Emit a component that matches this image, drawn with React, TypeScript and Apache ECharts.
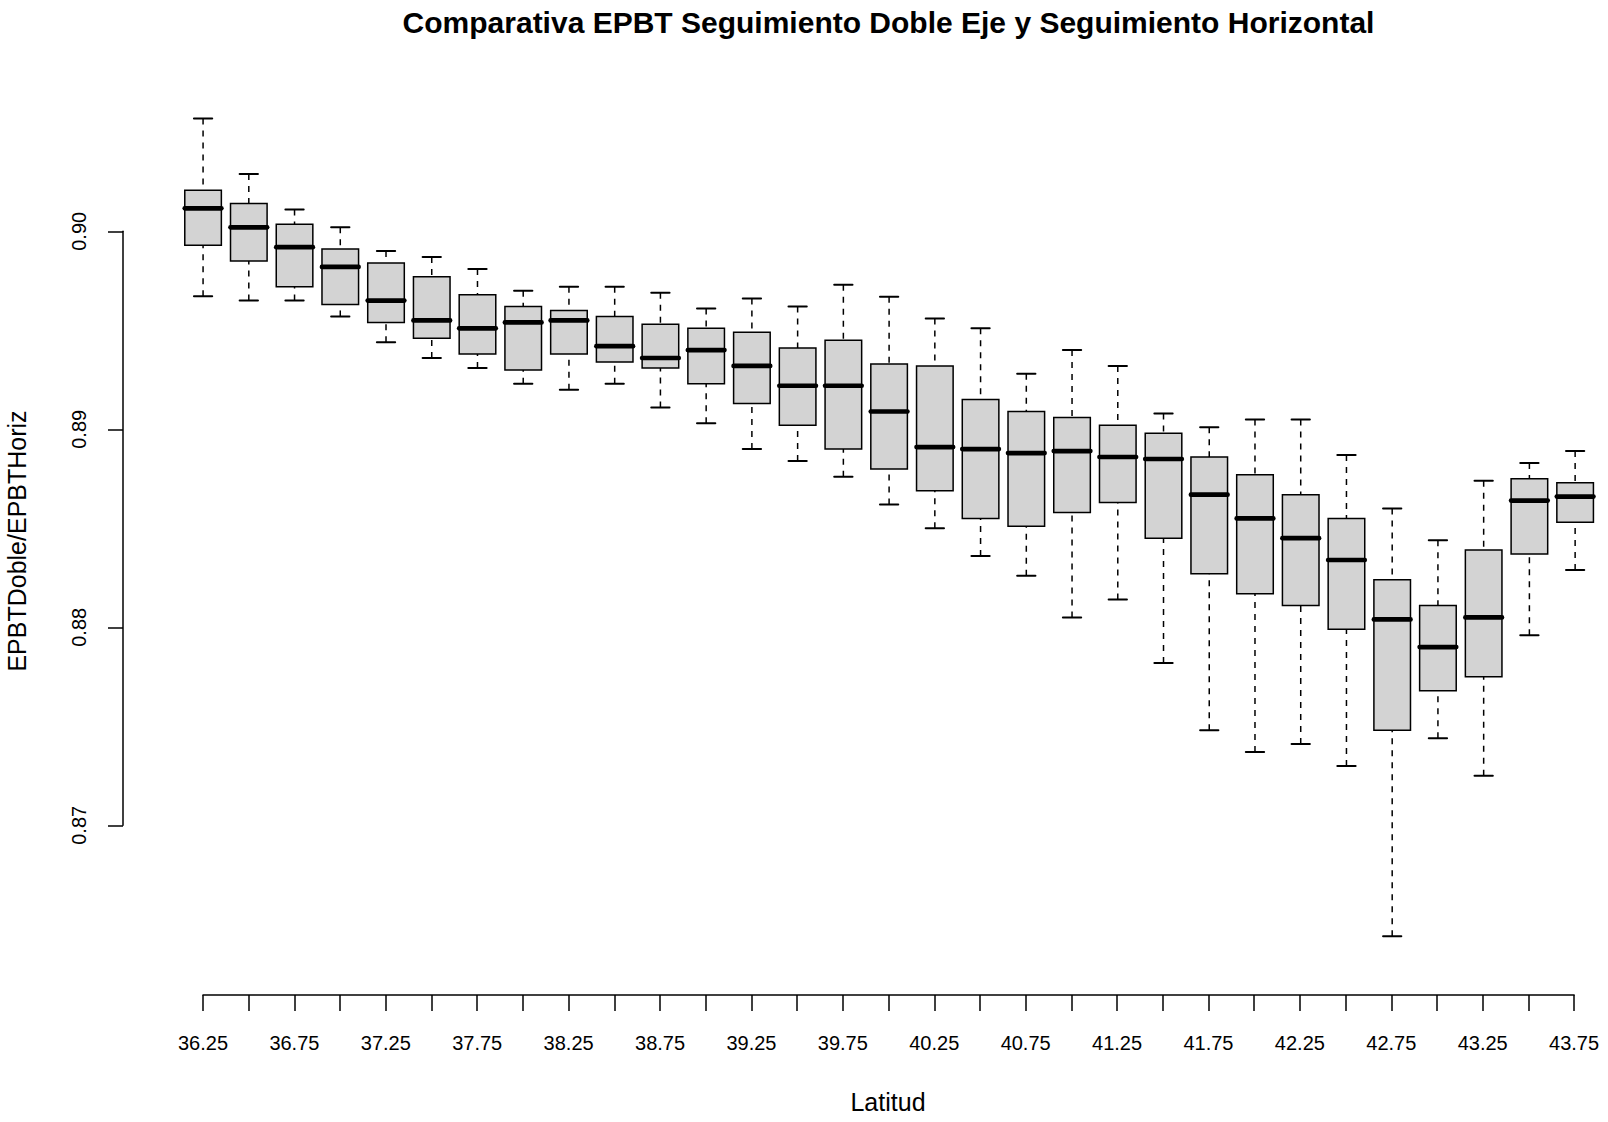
import React, { useEffect, useRef } from 'react';
import * as echarts from 'echarts';

const latitudes = ['36.25', '36.5', '36.75', '37', '37.25', '37.5', '37.75', '38', '38.25', '38.5', '38.75', '39', '39.25', '39.5', '39.75', '40', '40.25', '40.5', '40.75', '41', '41.25', '41.5', '41.75', '42', '42.25', '42.5', '42.75', '43', '43.25', '43.5', '43.75'];

const whiskerHigh = [0.9057, 0.9029, 0.9011, 0.9002, 0.8990, 0.8987, 0.8981, 0.8970, 0.8972, 0.8972, 0.8969, 0.8961, 0.8966, 0.8962, 0.8973, 0.8967, 0.8956, 0.8951, 0.8928, 0.8940, 0.8932, 0.8908, 0.8901, 0.8905, 0.8905, 0.8887, 0.8860, 0.8844, 0.8874, 0.8883, 0.8889];
const upperQuartile = [0.90207, 0.9014, 0.90035, 0.8991, 0.8984, 0.8977, 0.8968, 0.8962, 0.8960, 0.8957, 0.8953, 0.8951, 0.8949, 0.8941, 0.8945, 0.8933, 0.8932, 0.8915, 0.8909, 0.8906, 0.8902, 0.8898, 0.8886, 0.8877, 0.8867, 0.8855, 0.8824, 0.8811, 0.8839, 0.8875, 0.8873];
const medians = [0.90116, 0.9002, 0.8992, 0.8982, 0.8965, 0.8955, 0.8951, 0.8954, 0.8955, 0.8942, 0.8936, 0.8940, 0.8932, 0.8922, 0.8922, 0.8909, 0.8891, 0.8890, 0.8888, 0.8889, 0.8886, 0.8885, 0.8867, 0.8855, 0.8845, 0.8834, 0.8804, 0.8790, 0.8805, 0.8864, 0.8866];
const lowerQuartile = [0.89929, 0.8985, 0.8972, 0.8963, 0.8954, 0.8946, 0.8938, 0.8930, 0.8938, 0.8934, 0.8931, 0.8923, 0.8913, 0.8902, 0.8890, 0.8880, 0.8869, 0.8855, 0.8851, 0.8858, 0.8863, 0.8845, 0.8827, 0.8817, 0.8811, 0.8799, 0.8748, 0.8768, 0.8775, 0.8837, 0.8853];
const whiskerLow = [0.89672, 0.8965, 0.8965, 0.8957, 0.8944, 0.8936, 0.8931, 0.8923, 0.8920, 0.8923, 0.8911, 0.8903, 0.8890, 0.8884, 0.8876, 0.8862, 0.8850, 0.8836, 0.8826, 0.8805, 0.8814, 0.8782, 0.8748, 0.8737, 0.8741, 0.8730, 0.8644, 0.8744, 0.8725, 0.8796, 0.8829];

const FONT = '"Liberation Sans", Arial, Helvetica, sans-serif';

function renderBox(params: any, api: any) {
  const i = api.value(0);
  const lw = api.coord([i, api.value(1)]);
  const q1 = api.coord([i, api.value(2)]);
  const med = api.coord([i, api.value(3)]);
  const q3 = api.coord([i, api.value(4)]);
  const uw = api.coord([i, api.value(5)]);
  const cx = q1[0];
  const bw = api.size([1, 0])[0] * 0.8;
  const line = { stroke: '#000', lineWidth: 1.5 };
  return {
    type: 'group',
    children: [
      {
        type: 'line',
        shape: { x1: cx, y1: uw[1], x2: cx, y2: q3[1] },
        style: { ...line, lineDash: [6, 6] },
      },
      {
        type: 'line',
        shape: { x1: cx, y1: lw[1], x2: cx, y2: q1[1] },
        style: { ...line, lineDash: [6, 6] },
      },
      {
        type: 'line',
        shape: { x1: cx - bw / 4, y1: uw[1], x2: cx + bw / 4, y2: uw[1] },
        style: { ...line, lineWidth: 2, lineCap: 'round' },
      },
      {
        type: 'line',
        shape: { x1: cx - bw / 4, y1: lw[1], x2: cx + bw / 4, y2: lw[1] },
        style: { ...line, lineWidth: 2, lineCap: 'round' },
      },
      {
        type: 'rect',
        shape: { x: cx - bw / 2, y: q3[1], width: bw, height: q1[1] - q3[1] },
        style: { fill: '#D3D3D3', stroke: '#000', lineWidth: 1.5 },
      },
      {
        type: 'line',
        shape: { x1: cx - bw / 2, y1: med[1], x2: cx + bw / 2, y2: med[1] },
        style: { stroke: '#000', lineWidth: 4.7, lineCap: 'round' },
      },
    ],
  };
}

export default function App() {
  const ref = useRef<HTMLDivElement>(null);

  useEffect(() => {
    if (!ref.current) return;
    document.body.style.margin = '0';
    const chart = echarts.init(ref.current, null, { renderer: 'svg' });
    const data = latitudes.map((_, i) => [i, whiskerLow[i], lowerQuartile[i], medians[i], upperQuartile[i], whiskerHigh[i]]);
    const axisLineStyle = { color: '#000', width: 1.5 };
    const option: any = {
      animation: false,
      backgroundColor: '#ffffff',
      grid: [
        { left: 180.2, top: 83, width: 1417.8, height: 912 },
        { left: 123, top: 231.3, width: 1, height: 594 },
        { left: 203, top: 900, width: 1371.1, height: 95 },
      ],
      xAxis: [
        { gridIndex: 0, type: 'category', data: latitudes, show: false, boundaryGap: true },
        { gridIndex: 1, type: 'value', show: false },
        {
          gridIndex: 2,
          type: 'category',
          data: latitudes,
          boundaryGap: false,
          axisLine: { show: true, lineStyle: axisLineStyle },
          axisTick: { show: true, length: 16, interval: 0, lineStyle: axisLineStyle },
          axisLabel: { interval: 1, fontSize: 20, color: '#000', margin: 38, fontFamily: FONT },
          splitLine: { show: false },
        },
      ],
      yAxis: [
        { gridIndex: 0, type: 'value', min: 0.861429, max: 0.90749, show: false },
        {
          gridIndex: 1,
          type: 'value',
          min: 0.87,
          max: 0.9,
          interval: 0.01,
          axisLine: { show: true, lineStyle: axisLineStyle },
          axisTick: { show: true, length: 15, lineStyle: axisLineStyle },
          axisLabel: {
            rotate: 90,
            margin: 34,
            fontSize: 20,
            color: '#000',
            fontFamily: FONT,
            formatter: (v: number) => v.toFixed(2),
          },
          splitLine: { show: false },
        },
        { gridIndex: 2, type: 'value', show: false },
      ],
      graphic: [
        {
          type: 'text',
          x: 888.5,
          y: 22.5,
          style: {
            text: 'Comparativa EPBT Seguimiento Doble Eje y Seguimiento Horizontal',
            fontSize: 30,
            fontWeight: 'bold',
            fontFamily: FONT,
            fill: '#000',
            align: 'center',
            verticalAlign: 'middle',
          },
        },
        {
          type: 'text',
          x: 888,
          y: 1102,
          style: {
            text: 'Latitud',
            fontSize: 25,
            fontFamily: FONT,
            fill: '#000',
            align: 'center',
            verticalAlign: 'middle',
          },
        },
        {
          type: 'text',
          x: 17.4,
          y: 541,
          rotation: Math.PI / 2,
          style: {
            text: 'EPBTDoble/EPBTHoriz',
            fontSize: 25,
            fontFamily: FONT,
            fill: '#000',
            align: 'center',
            verticalAlign: 'middle',
          },
        },
      ],
      series: [
        {
          type: 'custom',
          xAxisIndex: 0,
          yAxisIndex: 0,
          clip: false,
          renderItem: renderBox,
          encode: { x: 0, y: [1, 2, 3, 4, 5] },
          data,
        },
      ],
    };
    chart.setOption(option);
    return () => {
      chart.dispose();
    };
  }, []);

  return (
    <div
      ref={ref}
      style={{ position: 'absolute', left: 0, top: 0, width: 1608, height: 1122 }}
    />
  );
}
